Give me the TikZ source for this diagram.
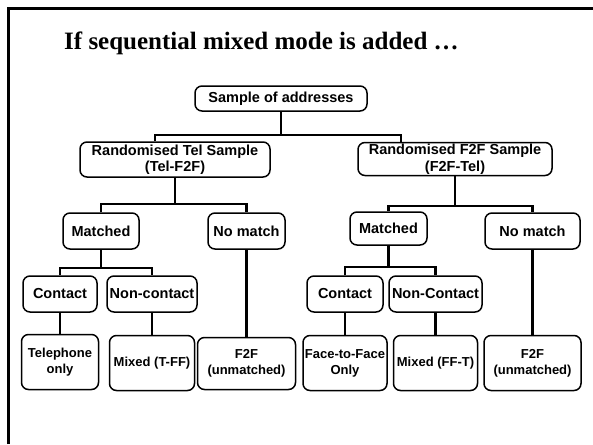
\documentclass[tikz,border=0pt]{standalone}
\usepackage{fontspec}
\setmainfont{Liberation Sans}
\newfontfamily\titlefont{Liberation Serif}
\usetikzlibrary{
	positioning
}
\tikzset{
	graphedge/.style={line width=2.4pt},
	blocknode/.style={draw, line width=1.5pt, rounded corners=7pt, align=center, inner sep=1pt, font=\fontsize{14.5}{16.5}\selectfont\bfseries},
	leafnode/.style={blocknode, minimum height=55pt, font=\fontsize{13}{16}\selectfont\bfseries},
	framestroke/.style={line width=2.6pt}
}
\begin{document}
\begin{tikzpicture}[x=1pt, y=-1pt]
	\useasboundingbox (0,0) rectangle (593,444);
	\draw[framestroke] (8.5,444) -- (8.5,8.5) -- (593,8.5);

	\node[anchor=base west, inner sep=0pt, font=\titlefont\fontsize{25}{30}\selectfont\bfseries] (title) at (64,49) {If sequential mixed mode is added …};

	\node[blocknode, minimum width=172pt, minimum height=25pt] (addresses) at (281,98.5) {Sample of addresses};
	\node[blocknode, minimum width=190pt, minimum height=35pt] (telsample) at (175,159.5) {Randomised Tel Sample\\(Tel-F2F)};
	\node[blocknode, minimum width=194pt, minimum height=33pt] (f2fsample) at (455,159) {Randomised F2F Sample\\(F2F-Tel)};

	\node[blocknode, minimum width=76pt, minimum height=36pt] (telmatched) at (101,231) {Matched};
	\node[blocknode, minimum width=77pt, minimum height=36pt] (telnomatch) at (246.5,231) {No match};
	\node[blocknode, minimum width=77pt, minimum height=33pt] (f2fmatched) at (388.5,228.5) {Matched};
	\node[blocknode, minimum width=95pt, minimum height=36pt] (f2fnomatch) at (532.5,231) {No match};

	\node[blocknode, minimum width=74pt, minimum height=36pt] (telcontact) at (60,294) {Contact};
	\node[blocknode, minimum width=90pt, minimum height=36pt] (telnoncontact) at (152,294) {Non-contact};
	\node[blocknode, minimum width=76pt, minimum height=36pt] (f2fcontact) at (345,294) {Contact};
	\node[blocknode, minimum width=93pt, minimum height=36pt] (f2fnoncontact) at (435.5,294) {Non-Contact};

	\node[leafnode, minimum width=77pt, below=21pt of telcontact] (telonly) {Telephone\\only};
	\node[leafnode, minimum width=85pt, below=22pt of telnoncontact] (mixedtff) {Mixed (T-FF)};
	\node[leafnode, minimum width=98pt, minimum height=52pt, below=87pt of telnomatch] (telf2f) {F2F\\(unmatched)};
	\node[leafnode, minimum width=84pt, below=22pt of f2fcontact] (facetoface) {Face-to-Face\\Only};
	\node[leafnode, minimum width=84pt, below=22pt of f2fnoncontact] (mixedfft) {Mixed (FF-T)};
	\node[leafnode, minimum width=97pt, below=85pt of f2fnomatch] (f2ff2f) {F2F\\(unmatched)};

	\coordinate (railtel) at (155,135);
	\coordinate (railf2f) at (401,135);
	\coordinate[below=26pt of telsample.south] (telsplit);
	\coordinate[below=30pt of f2fsample.south] (f2fsplit);
	\coordinate[below=18pt of telmatched.south] (telmatchsplit);
	\coordinate[below=21pt of f2fmatched.south] (f2fmatchsplit);

	\draw[graphedge] (addresses.south) -- (addresses.south |- railtel);
	\draw[graphedge] (railtel |- telsample.north) -- (railtel) -- (railf2f) -- (railf2f |- f2fsample.north);
	\draw[graphedge] (telsample.south) -- (telsplit);
	\draw[graphedge] (telmatched.north) |- (telsplit) -| (telnomatch.north);
	\draw[graphedge] (f2fsample.south) -- (f2fsplit);
	\draw[graphedge] (f2fmatched.north) |- (f2fsplit) -| (f2fnomatch.north);
	\draw[graphedge] (telmatched.south) -- (telmatchsplit);
	\draw[graphedge] (telcontact.north) |- (telmatchsplit) -| (telnoncontact.north);
	\draw[graphedge] (f2fmatched.south) -- (f2fmatchsplit);
	\draw[graphedge] (f2fcontact.north) |- (f2fmatchsplit) -| (f2fnoncontact.north);
	\draw[graphedge] (telcontact) -- (telonly);
	\draw[graphedge] (telnoncontact) -- (mixedtff);
	\draw[graphedge] (telnomatch) -- (telf2f);
	\draw[graphedge] (f2fcontact) -- (facetoface);
	\draw[graphedge] (f2fnoncontact) -- (mixedfft);
	\draw[graphedge] (f2fnomatch) -- (f2ff2f);
\end{tikzpicture}
\end{document}
